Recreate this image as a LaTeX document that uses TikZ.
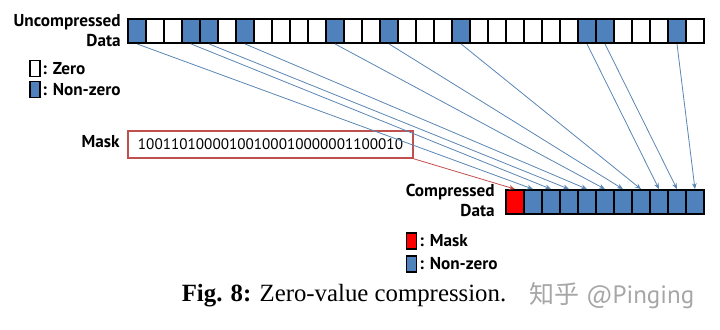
\documentclass[tikz,border=0pt]{standalone}
\usepackage{xcolor}
\usepackage{fontspec}
\setmainfont{Liberation Serif}
\setsansfont{PT Sans}
\newfontfamily\cjk{Noto Sans CJK SC}
\usepackage{tikz}
\usetikzlibrary{arrows.meta}

\definecolor{nzblue}{HTML}{4F81BD}
\definecolor{maskred}{HTML}{FF0000}
\definecolor{boxred}{HTML}{C0504D}
\definecolor{linkblue}{HTML}{5A86B3}

\tikzset{
    cell/.style={draw, line width=0.9pt, minimum width=9pt, minimum height=12pt, inner sep=0pt},
    keybox/.style={draw, line width=0.8pt, minimum width=5pt, minimum height=8pt, inner sep=0pt},
    lbl/.style={font=\sffamily\bfseries\fontsize{8.6}{10}\selectfont, inner sep=0pt},
    link/.style={draw=linkblue, line width=0.4pt, -{Stealth[length=3pt, width=2.4pt]}}
}

\begin{document}
\begin{tikzpicture}[x=0.5pt, y=-0.5pt]
    \useasboundingbox (0, 0) rectangle (720, 329);

    % uncompressed row
    \foreach \b [count=\i from 0] in {1,0,0,1,1,0,1,0,0,0,0,1,0,0,1,0,0,0,1,0,0,0,0,0,0,1,1,0,0,0,1,0} {
        \ifnum\b=1 \def\cellcol{nzblue}\else\def\cellcol{white}\fi
        \node[cell, fill=\cellcol] at (137+18*\i, 31) (u\i) {};
    }
    \node[lbl, anchor=east, align=right] at (121, 31) (ulabel) {Uncompressed\\Data};

    \node[keybox, fill=white] at (35, 68.5) (kzero) {};
    \node[keybox, fill=nzblue] at (35, 89.5) (knz) {};
    \node[lbl, anchor=west] at (42, 68.5) (tzero) {: Zero};
    \node[lbl, anchor=west] at (42, 89.5) (tnz) {: Non-zero};

    % mask
    \node[lbl, anchor=east] at (120, 142) (mlabel) {Mask};
    \node[draw=boxred, line width=0.8pt, minimum width=142.5pt, minimum height=13.5pt, inner sep=0pt,
          font=\sffamily\fontsize{7.6}{10}\selectfont] at (270.5, 144.5) (mask) {10011010000100100010000001100010};

    % compressed row
    \node[cell, fill=maskred] at (515, 202) (c0) {};
    \foreach \i in {1,...,10} {
        \node[cell, fill=nzblue] at (515+18*\i, 202) (c\i) {};
    }
    \node[lbl, anchor=east, align=right] at (495, 200) (clabel) {Compressed\\Data};

    \node[keybox, fill=maskred] at (411.5, 241) (kmask) {};
    \node[keybox, fill=nzblue] at (411.5, 264) (knz2) {};
    \node[lbl, anchor=west] at (419, 241) (tmask) {: Mask};
    \node[lbl, anchor=west] at (419, 264) (tnz2) {: Non-zero};

    % links
    \foreach \s [count=\t] in {0,3,4,6,11,14,18,25,26,30} {
        \draw[link] (u\s.south) -- (c\t.north);
    }
    \draw[link, draw=boxred] (mask.south east) -- (c0.north);

    % caption
    \node[font=\fontsize{12.4}{14}\selectfont] at (344, 296) (caption) {\textbf{Fig. 8:} Zero-value compression.};
    \node[text=black!35, font=\fontsize{12.5}{14}\selectfont] at (612, 296) (mark) {{\cjk 知乎} \sffamily @Pinging};
\end{tikzpicture}
\end{document}
